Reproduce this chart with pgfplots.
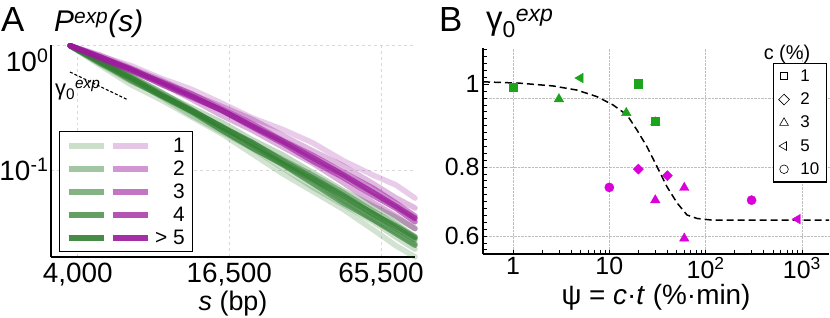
\documentclass[border=0pt]{standalone}
\usepackage{pgfplots}
\pgfplotsset{compat=1.18}
\usepackage{pgfplotstable}
\usepackage{fontspec}
\setmainfont{Liberation Sans}
\definecolor{gbase}{RGB}{49,127,49}
\definecolor{mbase}{RGB}{155,25,155}
\definecolor{gpt}{RGB}{28,165,28}
\definecolor{mpt}{RGB}{218,0,218}

\pgfplotstableread{
s g1 g2 g3 g4 g5 g6 g7 g8 m1 m2 m3 m4 m5 m6
3822 1 1 1 1 1 1 1 1 1 1 1 1 1 1
5043 .6918 .7158 .7720 .7138 .7478 .7265 .7367 .7455 .8272 .8375 .7794 .8115 .8045 .8080
6654 .4864 .5468 .5672 .5195 .5701 .5505 .5285 .5538 .6918 .6615 .6274 .6351 .6386 .6517
8780 .3664 .3883 .4154 .3990 .4233 .4063 .3954 .4006 .5462 .5281 .4981 .5139 .4888 .5070
11585 .2679 .2748 .3172 .2983 .3060 .2987 .2948 .3023 .4462 .4067 .3721 .4103 .3863 .3936
15287 .1954 .2028 .2416 .2122 .2204 .2239 .2090 .2222 .3445 .3245 .2746 .3093 .3017 .3020
20171 .1352 .1491 .1750 .1504 .1656 .1597 .1511 .1664 .2627 .2556 .2091 .2354 .2220 .2260
26616 .0935 .1042 .1323 .1112 .1212 .1134 .1113 .1186 .2121 .1897 .1534 .1727 .1647 .1706
35120 .0673 .07261 .09519 .0819 .09043 .0841 .07807 .0862 .1653 .1423 .1135 .1309 .1178 .1256
46341 .04831 .05277 .06823 .05739 .06569 .0607 .05454 .06244 .1189 .1080 .07919 .09590 .08714 .09141
61147 .03296 .03819 .05105 .04007 .04648 .04467 .03974 .04402 .0906 .07726 .05445 .07090 .06213 .06562
75281 .02449 .02872 .04121 .03178 .03639 .03401 .03072 .03518 .07556 .05938 .04250 .05394 .04899 .05082
89521 .01995 .02304 .03376 .02567 .02895 .02757 .02476 .02858 .05928 .04936 .03362 .04245 .03821 .04074
}\Pdata

\pgfplotsset{
 gA/.style={draw=gbase, draw opacity=#1, line width=5.5bp, line join=round, line cap=round, forget plot, mark=none},
 mA/.style={draw=mbase, draw opacity=#1, line width=5.5bp, line join=round, line cap=round, forget plot, mark=none},
}
\newcommand{\legA}[2]{\addlegendimage{legend image code/.code={%
  \draw[line width=6bp, gbase!#1!white] (0bp,0bp)--(35bp,0bp);
  \draw[line width=6bp, mbase!#1!white] (44bp,0bp)--(79bp,0bp);}}
  \addlegendentry{\makebox[32bp][r]{#2}}}

\begin{document}
\begin{tikzpicture}
\useasboundingbox (0bp,0bp) rectangle (830bp,318bp);
% ---------------- panel A
\begin{axis}[
 at={(51bp,61bp)}, anchor=south west, scale only axis, width=364bp, height=212bp,
 xmode=log, ymode=log, log basis x=2,
 xmin=3209, xmax=89500, ymin=0.0199, ymax=1.013,
 axis lines=left, axis line style={line width=1.4bp, -},
 xtick={4096,16384,65536}, xticklabels={{4,000},{16,500},{65,500}},
 ytick={0.1,1}, yticklabels={10\textsuperscript{-1},{}},
 extra y ticks={0.76}, extra y tick labels={10\textsuperscript{0}},
 extra y tick style={grid=none},
 minor xtick={}, minor ytick={},
 tick style={draw=none},
 xmajorgrids, ymajorgrids, major grid style={dashed, black!15, line width=0.7bp},
 tick label style={font=\fontsize{28}{30}\selectfont},
 yticklabel style={xshift=3bp},
 xlabel={\textit{s} (bp)}, xlabel style={font=\fontsize{27}{29}\selectfont, at={(axis description cs:0.5,-0.252)}, anchor=base},
 clip=false,
 legend style={at={(0.022,0.594)}, anchor=north west, draw=black, line width=1.4bp,
   font=\fontsize{21}{21}\selectfont, row sep=3bp, inner xsep=6bp, inner ysep=4bp},
 legend cell align=right,
]
\addplot[gA=0.22] table[x=s,y=g1]{\Pdata};
\addplot[gA=0.25] table[x=s,y=g2]{\Pdata};
\addplot[gA=0.3] table[x=s,y=g3]{\Pdata};
\addplot[gA=0.35] table[x=s,y=g4]{\Pdata};
\addplot[gA=0.45] table[x=s,y=g5]{\Pdata};
\addplot[gA=0.55] table[x=s,y=g6]{\Pdata};
\addplot[gA=0.65] table[x=s,y=g7]{\Pdata};
\addplot[gA=0.7] table[x=s,y=g8]{\Pdata};
\addplot[mA=0.22] table[x=s,y=m1]{\Pdata};
\addplot[mA=0.3] table[x=s,y=m2]{\Pdata};
\addplot[mA=0.35] table[x=s,y=m3]{\Pdata};
\addplot[mA=0.5] table[x=s,y=m4]{\Pdata};
\addplot[mA=0.6] table[x=s,y=m5]{\Pdata};
\addplot[mA=0.75] table[x=s,y=m6]{\Pdata};
\addplot[black, densely dashed, line width=1.1bp, forget plot] coordinates {(3817,0.614) (6490,0.366)};
\legA{25}{1}
\legA{45}{2}
\legA{60}{3}
\legA{75}{4}
\legA{90}{> 5}
\end{axis}
\node[anchor=base west, font=\fontsize{22}{22}\selectfont, inner sep=0pt] at (55bp,222bp) {γ\textsubscript{0}\textsuperscript{\itshape exp}};
\node[anchor=base west, font=\fontsize{35}{35}\selectfont, inner sep=0pt] at (1bp,286bp) {A};
\node[anchor=base west, font=\fontsize{30}{30}\selectfont\itshape, inner sep=0pt] at (54bp,286bp) {P\textsuperscript{exp}(s)};
% ---------------- panel B
\begin{axis}[
 at={(483bp,64bp)}, anchor=south west, scale only axis, width=346bp, height=206bp,
 xmode=log, xmin=0.488, xmax=1911, ymin=0.548, ymax=1.145,
 axis lines=left, axis line style={line width=1.4bp, -},
 xtick={1,10,100,1000}, xticklabels={1,10,10\textsuperscript{2},10\textsuperscript{3}},
 ytick={0.6,0.8,1.0}, yticklabels={0.6,0.8,{}},
 extra y ticks={1.04}, extra y tick labels={1},
 extra y tick style={ymajorgrids=false, major tick length=6bp},
 minor ytick={0.56,0.58,0.62,0.64,0.66,0.68,0.70,0.72,0.74,0.76,0.78,0.82,0.84,0.86,0.88,0.90,0.92,0.94,0.96,0.98,1.02,1.06,1.08,1.10,1.12,1.14},
 tick align=inside, major tick length=4bp, minor tick length=3.5bp,
 tick style={black, line width=0.8bp},
 xmajorgrids, ymajorgrids, major grid style={densely dotted, black!25, line width=0.7bp},
 tick label style={font=\fontsize{25}{27}\selectfont},
 xlabel={ψ = \textit{c}·\textit{t} (\%·min)}, xlabel style={font=\fontsize{28}{30}\selectfont, at={(axis description cs:0.5,-0.245)}, anchor=base},
 clip=false,
 legend style={at={(0.994,0.927)}, anchor=north east, draw=black, line width=1.4bp,
   font=\fontsize{17}{17}\selectfont, row sep=6bp, inner xsep=5bp, inner ysep=4bp},
 legend cell align=left,
]
\addplot[black, dash pattern=on 7bp off 4bp, line width=1.5bp, forget plot] coordinates {
 (0.488,1.047) (1.182,1.043) (2.603,1.035) (4.62,1.023) (7.45,1.004) (10.92,0.980)
 (15.27,0.951) (19.4,0.907) (24.6,0.859) (31.3,0.801) (39.7,0.743) (50.5,0.696)
 (64.1,0.661) (81.4,0.651) (119,0.646) (1911,0.646)};
\addplot[only marks, mark=square*, mark size=4.2bp, color=gpt, forget plot] coordinates {(1,1.032) (20,1.041) (30,0.933)};
\addplot[only marks, mark=triangle*, mark size=5.5bp, color=gpt, forget plot] coordinates {(3,0.997) (15,0.957) (30,0.930)};
\addplot[only marks, mark=triangle*, mark size=5.5bp, color=gpt, mark options={rotate=90}, forget plot] coordinates {(5,1.058)};
\addplot[only marks, mark=square*, mark size=3.6bp, color=mpt, mark options={rotate=45}, forget plot] coordinates {(20,0.794) (40,0.775)};
\addplot[only marks, mark=*, mark size=4.6bp, color=mpt, forget plot] coordinates {(10,0.741) (300,0.704)};
\addplot[only marks, mark=triangle*, mark size=5.5bp, color=mpt, forget plot] coordinates {(30,0.704) (60,0.740) (60,0.593)};
\addplot[only marks, mark=triangle*, mark size=5.5bp, color=mpt, mark options={rotate=90}, forget plot] coordinates {(900,0.649)};
\addlegendimage{only marks, mark=square, black, mark size=3.5bp, line width=0.6bp}
\addlegendentry{\hspace{9bp}1}
\addlegendimage{only marks, mark=square, black, mark size=3.8bp, line width=0.6bp, mark options={rotate=45}}
\addlegendentry{\hspace{9bp}2}
\addlegendimage{only marks, mark=triangle, black, mark size=5bp, line width=0.6bp}
\addlegendentry{\hspace{9bp}3}
\addlegendimage{only marks, mark=triangle, black, mark size=5bp, line width=0.6bp, mark options={rotate=90}}
\addlegendentry{\hspace{9bp}5}
\addlegendimage{only marks, mark=o, black, mark size=4.3bp, line width=0.6bp}
\addlegendentry{\hspace{9bp}10}
\end{axis}
\node[anchor=base, font=\fontsize{20}{20}\selectfont] at (787bp,258bp) {c (\%)};
\node[anchor=base west, font=\fontsize{35}{35}\selectfont, inner sep=0pt] at (439bp,286bp) {B};
\node[anchor=base west, font=\fontsize{33}{33}\selectfont, inner sep=0pt] at (486bp,288bp) {γ\textsubscript{0}\textsuperscript{\itshape exp}};
\end{tikzpicture}
\end{document}
